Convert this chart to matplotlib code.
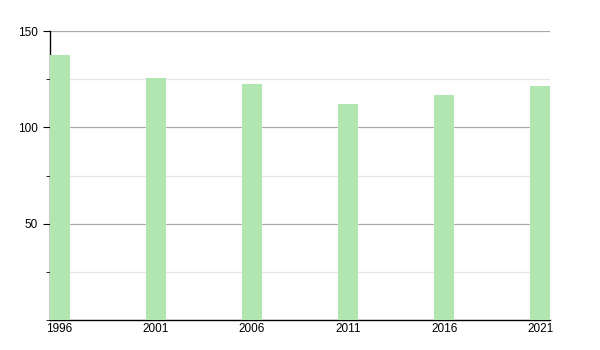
import matplotlib.pyplot as plt
from matplotlib.ticker import MultipleLocator

plt.rcParams['font.family'] = ['Liberation Sans', 'DejaVu Sans']

years = [1996, 2001, 2006, 2011, 2016, 2021]
values = [137.8, 125.8, 122.7, 112.3, 117.0, 121.7]

fig = plt.figure(figsize=(6, 3.5), dpi=100)
ax = fig.add_axes([50/600, 30/350, 500/600, 289/350])

ax.bar(years, values, width=1.05, color='#b2e6b0', zorder=3)

ax.set_xlim(1995.5, 2021.5)
ax.set_ylim(0, 150)
ax.set_xticks(years)
ax.set_xticklabels([str(y) for y in years])
ax.yaxis.set_major_locator(MultipleLocator(50))
ax.yaxis.set_minor_locator(MultipleLocator(25))
ax.set_yticks([50, 100, 150])

ax.grid(axis='y', which='major', color='#a8a8a8', linewidth=0.9, zorder=0)
ax.grid(axis='y', which='minor', color='#e6e6e6', linewidth=0.9, zorder=0)

for s in ['top', 'right']:
    ax.spines[s].set_visible(False)
ax.spines['left'].set_linewidth(1.0)
ax.spines['bottom'].set_linewidth(1.0)

ax.tick_params(axis='x', length=0, pad=2, labelsize=8.5)
ax.tick_params(axis='y', which='major', length=5, labelsize=8.5, pad=4)
ax.tick_params(axis='y', which='minor', length=3)

plt.savefig('out.png')
